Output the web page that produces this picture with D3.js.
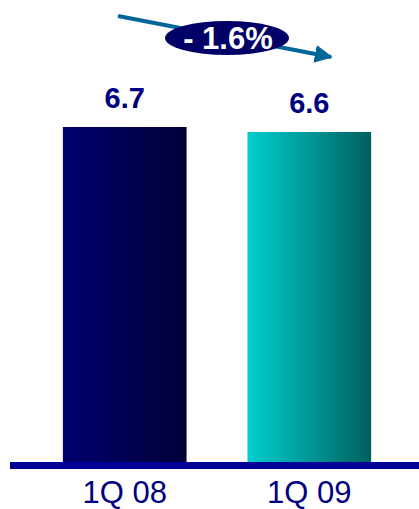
<!DOCTYPE html>
<html><head><meta charset="utf-8">
<script src="https://cdn.jsdelivr.net/npm/d3@7"></script>
<style>body{margin:0;background:#fff}svg{display:block}</style>
</head><body>
<script>
const categories = ["1Q 08", "1Q 09"];
const values = [6.7, 6.6];
const valueLabels = ["6.7", "6.6"];
const changeLabel = "- 1.6%";

const W = 419, H = 509;
const svg = d3.select("body").append("svg").attr("width", W).attr("height", H);
const defs = svg.append("defs");
const grads = [["#000070", "#000036"], ["#00cfcf", "#005f5f"]];
grads.forEach((g, i) => {
  const lg = defs.append("linearGradient").attr("id", "g" + i).attr("x1", "0").attr("x2", "1").attr("y1", "0").attr("y2", "0");
  lg.append("stop").attr("offset", "0").attr("stop-color", g[0]);
  lg.append("stop").attr("offset", "1").attr("stop-color", g[1]);
});
defs.append("marker").attr("id", "arr").attr("viewBox", "0 0 10 10").attr("refX", 9).attr("refY", 5)
  .attr("markerWidth", 4.5).attr("markerHeight", 4.5).attr("orient", "auto").attr("markerUnits", "strokeWidth")
  .append("path").attr("d", "M0,0L10,5L0,10z").attr("fill", "#006699");

const x = d3.scaleBand().domain(categories).range([7.5, 426.5]).paddingInner(0.33).paddingOuter(0.3);
const y = d3.scaleLinear().domain([0, 9.24]).range([462, 0]);

svg.selectAll("rect.bar").data(values).join("rect").attr("class", "bar")
  .attr("x", (d, i) => x(categories[i])).attr("width", x.bandwidth())
  .attr("y", d => y(d)).attr("height", d => y(0) - y(d))
  .attr("fill", (d, i) => `url(#g${i})`);

svg.append("rect").attr("x", 10).attr("y", y(0)).attr("width", W - 10).attr("height", 7).attr("fill", "#000099");

svg.selectAll("text.val").data(values).join("text").attr("class", "val")
  .attr("x", (d, i) => x(categories[i]) + x.bandwidth() / 2).attr("y", d => y(d) - 19)
  .attr("text-anchor", "middle").attr("font-family", "Liberation Sans, Arial, sans-serif")
  .attr("font-weight", "bold").attr("font-size", 29).attr("fill", "#000080")
  .text((d, i) => valueLabels[i]);

svg.selectAll("text.cat").data(categories).join("text").attr("class", "cat")
  .attr("x", d => x(d) + x.bandwidth() / 2).attr("y", 503)
  .attr("text-anchor", "middle").attr("font-family", "Liberation Sans, Arial, sans-serif")
  .attr("font-size", 31).attr("fill", "#000080").text(d => d);

svg.append("line").attr("x1", 118).attr("y1", 16).attr("x2", 331).attr("y2", 57)
  .attr("stroke", "#006699").attr("stroke-width", 4).attr("marker-end", "url(#arr)");

svg.append("ellipse").attr("cx", 227).attr("cy", 38).attr("rx", 62).attr("ry", 17).attr("fill", "#000066");
svg.append("text").attr("x", 228).attr("y", 49).attr("text-anchor", "middle")
  .attr("font-family", "Liberation Sans, Arial, sans-serif").attr("font-weight", "bold")
  .attr("font-size", 31).attr("fill", "#fff").text(changeLabel);
</script>
</body></html>
